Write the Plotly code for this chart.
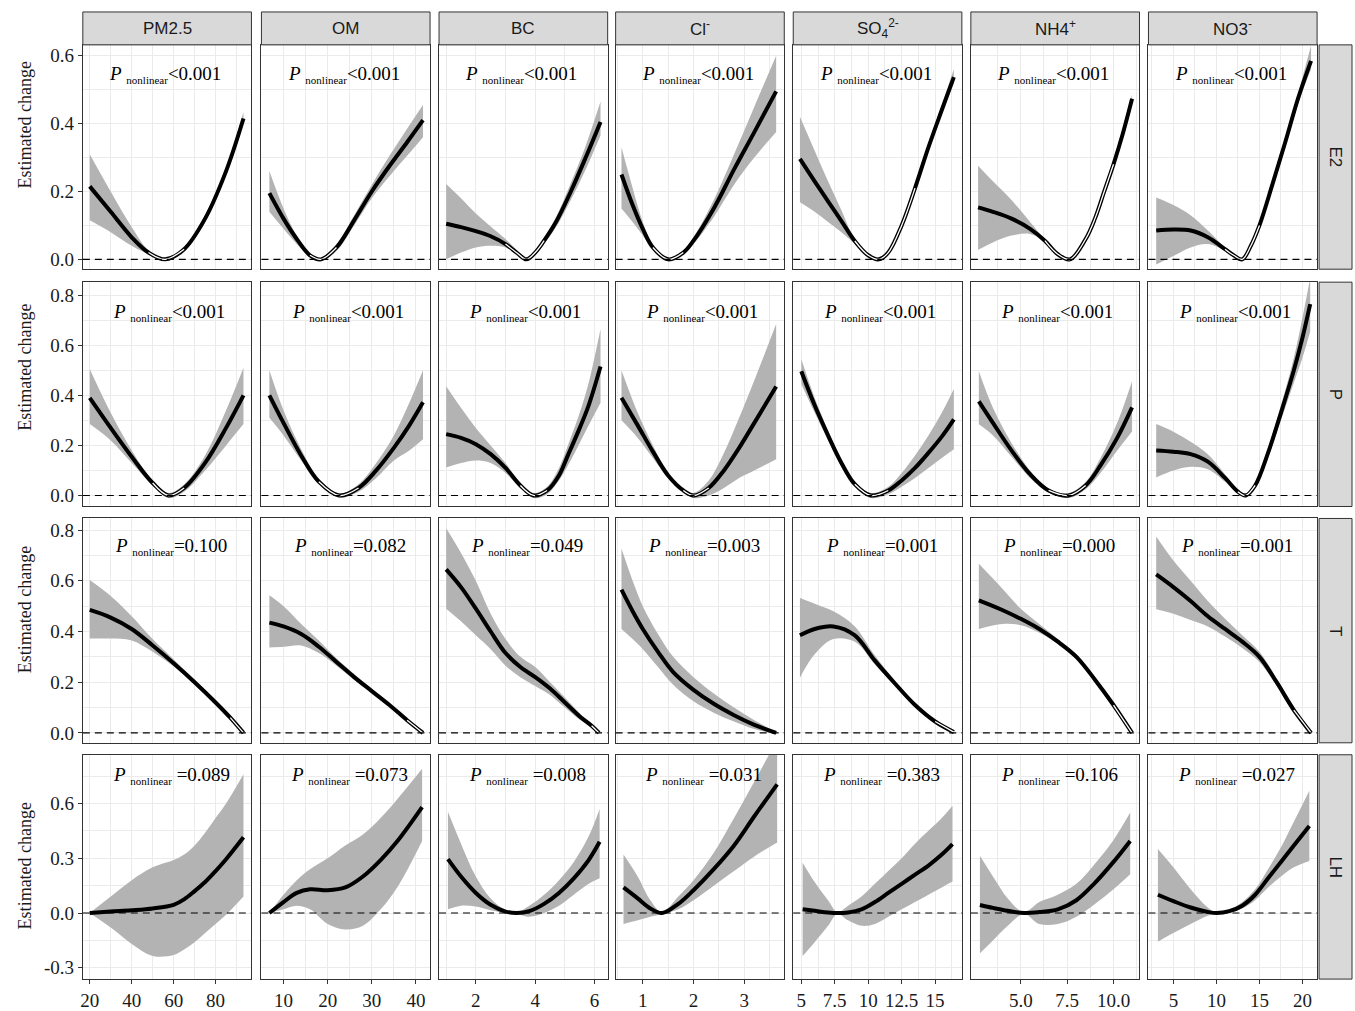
import plotly.graph_objects as go

W, H = 1355, 1011

# ---------------- data ----------------
pollutants = ["PM2.5", "OM", "BC", "Cl<sup>-</sup>", "SO<sub>4</sub><sup>2-</sup>",
              "NH4<sup>+</sup>", "NO3<sup>-</sup>"]
outcomes = ["E2", "P", "T", "LH"]

# Row E2
E2_x = [
    [20, 30, 40, 48, 56, 65, 75, 85, 93.3],
    [6.8, 10, 13, 16, 18.5, 22, 26, 30, 34, 38, 41.6],
    [1.0, 1.5, 2.0, 2.5, 3.0, 3.4, 3.7, 4.0, 4.3, 4.7, 5.2, 5.7, 6.2],
    [0.58, 0.8, 1.0, 1.2, 1.5, 1.8, 2.0, 2.4, 2.8, 3.2, 3.63],
    [4.9, 6, 7, 8, 9, 10, 10.8, 11.5, 12.5, 13.5, 14.5, 15.5, 16.4],
    [2.7, 3.5, 4.5, 5.5, 6.3, 7.0, 7.66, 8.5, 9.0, 9.5, 10.0, 10.5, 11.0],
    [3, 5, 7, 9, 11, 12, 13, 14, 15, 16.5, 18, 19.5, 21],
]
E2_fit = [
    [0.215, 0.14, 0.065, 0.02, 0.0, 0.03, 0.12, 0.26, 0.415],
    [0.195, 0.12, 0.06, 0.012, 0.0, 0.035, 0.115, 0.2, 0.275, 0.345, 0.41],
    [0.105, 0.095, 0.083, 0.068, 0.045, 0.018, 0.0, 0.02, 0.055, 0.11, 0.2, 0.3, 0.405],
    [0.25, 0.16, 0.09, 0.035, 0.0, 0.02, 0.055, 0.15, 0.265, 0.375, 0.495],
    [0.296, 0.23, 0.171, 0.113, 0.054, 0.012, 0.0, 0.02, 0.10, 0.21, 0.33, 0.44, 0.537],
    [0.153, 0.14, 0.12, 0.09, 0.055, 0.015, 0.0, 0.06, 0.12, 0.2, 0.28, 0.37, 0.473],
    [0.085, 0.088, 0.085, 0.065, 0.03, 0.012, 0.0, 0.04, 0.10, 0.22, 0.345, 0.475, 0.585],
]
E2_lo = [
    [0.115, 0.08, 0.04, 0.015, -0.003, 0.025, 0.11, 0.25, 0.40],
    [0.14, 0.09, 0.045, 0.008, -0.003, 0.025, 0.10, 0.18, 0.245, 0.305, 0.36],
    [0.0, 0.02, 0.035, 0.04, 0.035, 0.015, -0.003, 0.012, 0.045, 0.095, 0.175, 0.265, 0.365],
    [0.15, 0.11, 0.07, 0.028, -0.003, 0.015, 0.045, 0.125, 0.22, 0.3, 0.375],
    [0.168, 0.14, 0.11, 0.08, 0.045, 0.01, -0.003, 0.016, 0.095, 0.205, 0.32, 0.43, 0.52],
    [0.028, 0.05, 0.07, 0.075, 0.052, 0.012, -0.003, 0.055, 0.112, 0.19, 0.27, 0.36, 0.46],
    [-0.015, 0.01, 0.035, 0.045, 0.025, 0.01, -0.003, 0.035, 0.09, 0.21, 0.335, 0.46, 0.56],
]
E2_hi = [
    [0.31, 0.2, 0.095, 0.027, 0.003, 0.035, 0.13, 0.27, 0.435],
    [0.26, 0.15, 0.07, 0.016, 0.003, 0.04, 0.13, 0.22, 0.305, 0.385, 0.455],
    [0.222, 0.18, 0.135, 0.097, 0.06, 0.025, 0.003, 0.027, 0.065, 0.125, 0.225, 0.335, 0.465],
    [0.33, 0.21, 0.11, 0.042, 0.003, 0.025, 0.065, 0.175, 0.31, 0.45, 0.6],
    [0.42, 0.32, 0.23, 0.145, 0.058, 0.015, 0.003, 0.024, 0.105, 0.215, 0.34, 0.455, 0.56],
    [0.276, 0.23, 0.175, 0.11, 0.058, 0.018, 0.003, 0.065, 0.128, 0.21, 0.29, 0.38, 0.485],
    [0.182, 0.16, 0.13, 0.085, 0.035, 0.014, 0.003, 0.045, 0.11, 0.23, 0.355, 0.49, 0.63],
]

# Row P
P_x = [
    [20, 30, 40, 50, 57.6, 65, 75, 85, 93.3],
    [6.8, 10, 14, 18, 22.6, 27, 31, 35, 38.5, 41.6],
    [1.0, 1.5, 2.0, 2.5, 3.0, 3.5, 3.95, 4.4, 4.8, 5.1, 5.5, 5.8, 6.2],
    [0.58, 0.9, 1.2, 1.5, 1.8, 2.0, 2.3, 2.6, 2.9, 3.2, 3.63],
    [5.0, 6, 7, 8, 9, 10.2, 11.5, 12.5, 13.5, 14.5, 15.5, 16.4],
    [2.74, 3.5, 4.5, 5.5, 6.5, 7.58, 8.5, 9.3, 10.2, 11.0],
    [3, 5, 7, 9, 11, 12.5, 13.4, 14.5, 16, 17.5, 19, 20, 20.9],
]
P_fit = [
    [0.39, 0.27, 0.155, 0.05, 0.0, 0.03, 0.13, 0.27, 0.40],
    [0.40, 0.29, 0.16, 0.055, 0.0, 0.03, 0.10, 0.19, 0.28, 0.372],
    [0.245, 0.23, 0.205, 0.165, 0.11, 0.04, 0.0, 0.02, 0.08, 0.16, 0.27, 0.36, 0.515],
    [0.39, 0.28, 0.175, 0.08, 0.02, 0.0, 0.03, 0.10, 0.19, 0.29, 0.435],
    [0.496, 0.36, 0.24, 0.13, 0.045, 0.0, 0.02, 0.06, 0.11, 0.17, 0.235, 0.304],
    [0.376, 0.29, 0.18, 0.085, 0.02, 0.0, 0.04, 0.12, 0.23, 0.352],
    [0.18, 0.175, 0.165, 0.135, 0.07, 0.015, 0.0, 0.04, 0.17, 0.33, 0.5, 0.63, 0.764],
]
P_lo = [
    [0.285, 0.22, 0.13, 0.04, -0.01, 0.015, 0.10, 0.20, 0.285],
    [0.31, 0.24, 0.14, 0.045, -0.008, 0.015, 0.07, 0.14, 0.18, 0.225],
    [0.112, 0.13, 0.14, 0.13, 0.09, 0.03, -0.01, 0.005, 0.06, 0.12, 0.21, 0.28, 0.37],
    [0.3, 0.23, 0.15, 0.07, 0.015, -0.01, 0.0, 0.03, 0.07, 0.1, 0.145],
    [0.445, 0.33, 0.22, 0.115, 0.035, -0.01, 0.005, 0.035, 0.07, 0.11, 0.15, 0.185],
    [0.284, 0.24, 0.155, 0.07, 0.012, -0.01, 0.025, 0.09, 0.18, 0.256],
    [0.072, 0.1, 0.115, 0.105, 0.055, 0.01, -0.008, 0.03, 0.15, 0.3, 0.45, 0.55, 0.655],
]
P_hi = [
    [0.505, 0.33, 0.18, 0.06, 0.01, 0.045, 0.16, 0.34, 0.51],
    [0.5, 0.34, 0.185, 0.068, 0.008, 0.045, 0.13, 0.24, 0.37, 0.5],
    [0.436, 0.35, 0.27, 0.2, 0.13, 0.05, 0.01, 0.035, 0.11, 0.2, 0.33, 0.45, 0.665],
    [0.5, 0.33, 0.2, 0.09, 0.025, 0.01, 0.06, 0.17, 0.31, 0.46, 0.685],
    [0.545, 0.39, 0.26, 0.145, 0.055, 0.01, 0.035, 0.09, 0.16, 0.24, 0.33, 0.425],
    [0.496, 0.35, 0.21, 0.1, 0.028, 0.01, 0.055, 0.15, 0.29, 0.456],
    [0.285, 0.255, 0.215, 0.165, 0.085, 0.02, 0.008, 0.05, 0.19, 0.36, 0.55, 0.71, 0.87],
]

# Row T
T_x = [
    [20, 30, 40, 50, 60, 70, 80, 87, 93.3],
    [6.8, 10, 14, 18, 22, 26, 30, 34, 38, 41.6],
    [1.0, 1.5, 2.0, 2.5, 3.0, 3.5, 4.0, 4.5, 5.0, 5.5, 5.9, 6.15],
    [0.58, 0.8, 1.0, 1.3, 1.6, 2.0, 2.4, 2.8, 3.2, 3.63],
    [4.9, 6, 7.4, 9, 10.5, 12, 13.5, 15, 16.4],
    [2.74, 4, 5, 6, 7, 8, 9, 10, 11],
    [3, 5, 7, 9, 11, 13, 15, 17, 19, 21],
]
T_fit = [
    [0.485, 0.455, 0.41, 0.345, 0.275, 0.2, 0.12, 0.06, 0.0],
    [0.435, 0.42, 0.39, 0.34, 0.28, 0.22, 0.165, 0.11, 0.05, 0.0],
    [0.645, 0.575, 0.49, 0.4, 0.315, 0.26, 0.22, 0.175, 0.12, 0.065, 0.028, 0.0],
    [0.565, 0.48, 0.41, 0.32, 0.24, 0.17, 0.115, 0.07, 0.032, 0.0],
    [0.385, 0.41, 0.42, 0.385, 0.285, 0.195, 0.11, 0.045, 0.003],
    [0.523, 0.485, 0.45, 0.41, 0.36, 0.3, 0.21, 0.11, 0.0],
    [0.625, 0.575, 0.52, 0.46, 0.41, 0.36, 0.3, 0.2, 0.09, 0.0],
]
T_lo = [
    [0.372, 0.372, 0.365, 0.32, 0.262, 0.19, 0.112, 0.052, -0.005],
    [0.337, 0.34, 0.345, 0.315, 0.265, 0.21, 0.157, 0.105, 0.046, -0.004],
    [0.49, 0.44, 0.385, 0.33, 0.265, 0.22, 0.185, 0.15, 0.1, 0.052, 0.022, -0.005],
    [0.41, 0.37, 0.33, 0.26, 0.19, 0.125, 0.08, 0.045, 0.015, -0.005],
    [0.218, 0.31, 0.37, 0.36, 0.27, 0.185, 0.103, 0.04, -0.003],
    [0.41, 0.43, 0.425, 0.395, 0.35, 0.29, 0.2, 0.1, -0.005],
    [0.488, 0.47, 0.445, 0.42, 0.38, 0.335, 0.28, 0.185, 0.08, -0.005],
]
T_hi = [
    [0.603, 0.54, 0.46, 0.37, 0.29, 0.21, 0.128, 0.066, 0.005],
    [0.543, 0.5, 0.43, 0.365, 0.295, 0.232, 0.173, 0.115, 0.054, 0.004],
    [0.807, 0.71, 0.6, 0.47, 0.37, 0.3, 0.26, 0.2, 0.14, 0.078, 0.035, 0.005],
    [0.727, 0.6, 0.5, 0.39, 0.3, 0.22, 0.155, 0.1, 0.05, 0.005],
    [0.532, 0.51, 0.48, 0.42, 0.305, 0.205, 0.118, 0.05, 0.008],
    [0.667, 0.57, 0.49, 0.43, 0.37, 0.31, 0.22, 0.12, 0.005],
    [0.775, 0.68, 0.6, 0.52, 0.45, 0.385, 0.32, 0.215, 0.1, 0.005],
]

# Row LH
LH_x = [
    [20, 30, 40, 50, 60, 65, 70, 75, 80, 85, 93.3],
    [6.8, 10, 13, 16, 20, 24, 28, 32, 36, 41.4],
    [1.06, 1.5, 2.0, 2.5, 3.0, 3.38, 3.8, 4.3, 4.8, 5.3, 5.8, 6.17],
    [0.62, 0.9, 1.15, 1.38, 1.7, 2.0, 2.4, 2.8, 3.2, 3.65],
    [5.1, 6, 7, 7.7, 8.5, 9.5, 10.5, 11.5, 12.5, 13.5, 14.5, 15.5, 16.3],
    [2.8, 3.5, 4.3, 5.18, 6, 7, 8, 9, 10, 10.9],
    [3.2, 5, 7, 9, 10, 11.5, 13, 14.5, 16, 17.5, 19, 20.8],
]
LH_fit = [
    [0.0, 0.008, 0.015, 0.025, 0.045, 0.075, 0.12, 0.17, 0.23, 0.295, 0.415],
    [0.0, 0.06, 0.11, 0.13, 0.125, 0.14, 0.2, 0.29, 0.4, 0.58],
    [0.295, 0.2, 0.11, 0.045, 0.008, 0.0, 0.01, 0.05, 0.11, 0.19, 0.29, 0.39],
    [0.14, 0.08, 0.025, 0.0, 0.05, 0.125, 0.24, 0.37, 0.53, 0.705],
    [0.02, 0.012, 0.003, 0.0, 0.003, 0.02, 0.06, 0.11, 0.16, 0.21, 0.26, 0.32, 0.377],
    [0.044, 0.028, 0.012, 0.0, 0.005, 0.02, 0.07, 0.165, 0.28, 0.395],
    [0.1, 0.065, 0.03, 0.006, 0.0, 0.01, 0.04, 0.1, 0.19, 0.28, 0.37, 0.477],
]
LH_lo = [
    [0.0, -0.08, -0.17, -0.235, -0.23, -0.2, -0.16, -0.11, -0.06, -0.01, 0.09],
    [0.0, 0.02, 0.04, 0.02, -0.06, -0.09, -0.07, 0.02, 0.15, 0.395],
    [0.02, 0.04, 0.035, 0.015, 0.0, -0.005, -0.02, 0.0, 0.04, 0.1, 0.16, 0.19],
    [-0.06, -0.04, -0.02, -0.005, 0.02, 0.07, 0.15, 0.23, 0.31, 0.386],
    [-0.236, -0.16, -0.07, -0.005, -0.04, -0.07, -0.06, -0.02, 0.02, 0.06, 0.1, 0.14, 0.172],
    [-0.22, -0.15, -0.07, -0.005, -0.06, -0.06, -0.02, 0.05, 0.13, 0.212],
    [-0.157, -0.11, -0.06, -0.015, -0.003, 0.003, 0.025, 0.07, 0.14, 0.2, 0.25, 0.285],
]
LH_hi = [
    [0.0, 0.09, 0.18, 0.25, 0.29, 0.32, 0.37, 0.44, 0.52, 0.6, 0.76],
    [0.0, 0.1, 0.18, 0.24, 0.3, 0.37, 0.43, 0.52, 0.63, 0.79],
    [0.555, 0.38, 0.2, 0.08, 0.018, 0.005, 0.04, 0.1, 0.18, 0.28, 0.42, 0.57],
    [0.32, 0.2, 0.07, 0.005, 0.09, 0.18, 0.33, 0.52, 0.72, 0.95],
    [0.276, 0.17, 0.07, 0.005, 0.04, 0.09, 0.16, 0.23, 0.3, 0.38, 0.45, 0.52, 0.587],
    [0.313, 0.2, 0.08, 0.005, 0.06, 0.1, 0.16, 0.27, 0.4, 0.55],
    [0.35, 0.25, 0.13, 0.03, 0.003, 0.02, 0.06, 0.13, 0.24, 0.36, 0.5, 0.67],
]

p_E2 = ["&lt;0.001"] * 7
p_P = ["&lt;0.001"] * 7
p_T = ["=0.100", "=0.082", "=0.049", "=0.003", "=0.001", "=0.000", "=0.001"]
p_LH = [" =0.089", " =0.073", " =0.008", " =0.031", " =0.383", " =0.106", " =0.027"]

# tick definitions
x_major = [[20, 40, 60, 80], [10, 20, 30, 40], [2, 4, 6], [1, 2, 3],
           [5, 7.5, 10, 12.5, 15], [5, 7.5, 10], [5, 10, 15, 20]]
x_major_text = [["20", "40", "60", "80"], ["10", "20", "30", "40"], ["2", "4", "6"],
                ["1", "2", "3"], ["5", "7.5", "10", "12.5", "15"],
                ["5.0", "7.5", "10.0"], ["5", "10", "15", "20"]]
x_minor = [[30, 50, 70, 90], [15, 25, 35], [1, 3, 5], [0.5, 1.5, 2.5, 3.5],
           [6.25, 8.75, 11.25, 13.75, 16.25], [3.75, 6.25, 8.75, 11.25],
           [2.5, 7.5, 12.5, 17.5]]
y_major = [[0, 0.2, 0.4, 0.6], [0, 0.2, 0.4, 0.6, 0.8], [0, 0.2, 0.4, 0.6, 0.8],
           [-0.3, 0, 0.3, 0.6]]
y_major_text = [["0.0", "0.2", "0.4", "0.6"], ["0.0", "0.2", "0.4", "0.6", "0.8"],
                ["0.0", "0.2", "0.4", "0.6", "0.8"], ["-0.3", "0.0", "0.3", "0.6"]]
y_minor = [[0.1, 0.3, 0.5], [0.1, 0.3, 0.5, 0.7], [0.1, 0.3, 0.5, 0.7],
           [-0.15, 0.15, 0.45, 0.75]]

# ---------------- layout geometry / styles ----------------
col_left = [80, 259, 437, 614, 792, 970, 1148]
panel_w = 169
row_top = [45, 283, 520, 757]
panel_h = 225
strip_top = 12
right_strip = (1319, 1352)
x_ranges = [[16.7, 97.1], [5.0, 43.2], [0.76, 6.44], [0.465, 3.79],
            [4.4, 17.0], [2.31, 11.4], [2.1, 21.7]]
y_ranges = [[-0.029, 0.632], [-0.044, 0.852], [-0.039, 0.846], [-0.362, 0.867]]
hollow = [
    [(48, 65), (16, 22), (3.0, 4.3), (1.2, 1.8), (9, 13.5), (6.3, 10.0), (11, 15)],
    [(50, 65), (18, 27), (3.5, 4.4), (1.8, 2.3), (9, 11.5), (6.5, 8.5), (12.5, 14.5)],
    [(87, 93.3), (38, 41.6), (5.9, 6.15), None, (15, 16.4), (10, 11), (19, 21)],
    [None] * 7,
]
ptext_dx = [-2, 2, 4, 4]
ptext_dy = [30, 30, 28, 21]
ytitle_y = [125, 368, 611, 868]

rows = [
    (E2_x, E2_fit, E2_lo, E2_hi, p_E2),
    (P_x, P_fit, P_lo, P_hi, p_P),
    (T_x, T_fit, T_lo, T_hi, p_T),
    (LH_x, LH_fit, LH_lo, LH_hi, p_LH),
]

RIBBON = "#b3b3b3"
BORDER = "#333333"
GRID = "#ebebeb"
SERIF = "Liberation Serif"
SANS = "Liberation Sans"

fig = go.Figure()
layout = dict(width=W, height=H, margin=dict(l=0, r=0, t=0, b=0),
              paper_bgcolor="white", plot_bgcolor="white", showlegend=False)
shapes = []
annotations = []

for r in range(4):
    xs_all, fit_all, lo_all, hi_all, ptxt = rows[r]
    for c in range(7):
        k = r * 7 + c + 1
        sfx = "" if k == 1 else str(k)
        xname, yname = "x" + sfx, "y" + sfx
        dx0 = col_left[c] / W
        dx1 = (col_left[c] + panel_w) / W
        dy1 = 1 - row_top[r] / H
        dy0 = 1 - (row_top[r] + panel_h) / H
        layout["xaxis" + sfx] = dict(
            domain=[dx0, dx1], anchor=yname, range=x_ranges[c],
            tickmode="array", tickvals=x_major[c], ticktext=x_major_text[c],
            showticklabels=(r == 3), ticks="outside" if r == 3 else "",
            ticklen=4, tickwidth=1, tickcolor=BORDER,
            showgrid=True, gridcolor=GRID, gridwidth=1.1,
            minor=dict(tickmode="array", tickvals=x_minor[c], showgrid=True,
                       gridcolor=GRID, gridwidth=0.6, ticks=""),
            showline=True, mirror=True, linecolor=BORDER, linewidth=1,
            zeroline=False, fixedrange=True,
            tickfont=dict(family=SERIF, size=19, color="#1a1a1a"))
        layout["yaxis" + sfx] = dict(
            domain=[dy0, dy1], anchor=xname, range=y_ranges[r],
            tickmode="array", tickvals=y_major[r], ticktext=y_major_text[r],
            showticklabels=(c == 0), ticks="outside" if c == 0 else "",
            ticklen=4, tickwidth=1, tickcolor=BORDER,
            showgrid=True, gridcolor=GRID, gridwidth=1.1,
            minor=dict(tickmode="array", tickvals=y_minor[r], showgrid=True,
                       gridcolor=GRID, gridwidth=0.6, ticks=""),
            showline=True, mirror=True, linecolor=BORDER, linewidth=1,
            zeroline=False, fixedrange=True,
            tickfont=dict(family=SERIF, size=19, color="#1a1a1a"))

        xv, fv, lv, hv = xs_all[c], fit_all[c], lo_all[c], hi_all[c]
        fig.add_trace(go.Scatter(x=xv, y=lv, mode="lines", xaxis=xname, yaxis=yname,
                                 line=dict(width=0, color=RIBBON, shape="spline"),
                                 hoverinfo="skip"))
        fig.add_trace(go.Scatter(x=xv, y=hv, mode="lines", xaxis=xname, yaxis=yname,
                                 line=dict(width=0, color=RIBBON, shape="spline"),
                                 fill="tonexty", fillcolor=RIBBON, hoverinfo="skip"))
        # dashed reference line
        shapes.append(dict(type="line", xref=xname + " domain", yref=yname,
                           x0=0, x1=1, y0=0, y1=0,
                           line=dict(color="#000000", width=1.2, dash="7px,5px")))
        fig.add_trace(go.Scatter(x=xv, y=fv, mode="lines", xaxis=xname, yaxis=yname,
                                 line=dict(width=4, color="black", shape="spline"),
                                 hoverinfo="skip"))
        hr = hollow[r][c]
        if hr is not None:
            idx = [i for i, xx in enumerate(xv) if hr[0] <= xx <= hr[1]]
            if len(idx) >= 2:
                fig.add_trace(go.Scatter(x=[xv[i] for i in idx], y=[fv[i] for i in idx],
                                         mode="lines", xaxis=xname, yaxis=yname,
                                         line=dict(width=1.3, color="white", shape="spline"),
                                         hoverinfo="skip"))

        # p-value text
        annotations.append(dict(
            xref=xname + " domain", yref=yname + " domain",
            x=0.5 + ptext_dx[r] / panel_w, y=1 - ptext_dy[r] / panel_h,
            xanchor="center", yanchor="middle", showarrow=False,
            text="<i>P</i> <sub><span style='font-size:11px'>nonlinear</span></sub>" + ptxt[c],
            font=dict(family=SERIF, size=19, color="black")))

# top strips
for c in range(7):
    x0 = col_left[c] / W
    x1 = (col_left[c] + panel_w) / W
    shapes.append(dict(type="rect", xref="paper", yref="paper", x0=x0, x1=x1,
                       y0=1 - row_top[0] / H, y1=1 - strip_top / H,
                       fillcolor="#d9d9d9", line=dict(color=BORDER, width=1), layer="above"))
    annotations.append(dict(xref="paper", yref="paper", x=(x0 + x1) / 2,
                            y=1 - (strip_top + row_top[0]) / 2 / H,
                            xanchor="center", yanchor="middle", showarrow=False,
                            text=pollutants[c],
                            font=dict(family=SANS, size=17, color="#1a1a1a")))

# right strips and y titles
for r in range(4):
    y1 = 1 - row_top[r] / H
    y0 = 1 - (row_top[r] + panel_h) / H
    shapes.append(dict(type="rect", xref="paper", yref="paper",
                       x0=right_strip[0] / W, x1=right_strip[1] / W, y0=y0, y1=y1,
                       fillcolor="#d9d9d9", line=dict(color=BORDER, width=1), layer="above"))
    annotations.append(dict(xref="paper", yref="paper",
                            x=(right_strip[0] + right_strip[1]) / 2 / W, y=(y0 + y1) / 2,
                            xanchor="center", yanchor="middle", showarrow=False,
                            textangle=90, text=outcomes[r],
                            font=dict(family=SANS, size=17, color="#1a1a1a")))
    annotations.append(dict(xref="paper", yref="paper", x=22 / W, y=1 - ytitle_y[r] / H,
                            xanchor="center", yanchor="middle", showarrow=False,
                            textangle=-90, text="Estimated change",
                            font=dict(family=SERIF, size=18, color="#1a1a1a")))

layout["shapes"] = shapes
layout["annotations"] = annotations
fig.update_layout(**layout)
fig.write_html("out.html")
